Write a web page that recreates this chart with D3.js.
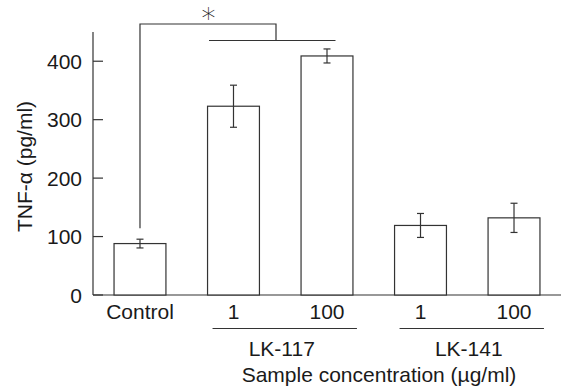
<!DOCTYPE html>
<html><head><meta charset="utf-8">
<script src="https://cdn.jsdelivr.net/npm/d3@7"></script>
<style>body{margin:0;background:#fff}text{font-family:"Liberation Sans",Arial,sans-serif;fill:#1a1a1a}</style>
</head><body><svg id="c" width="562" height="391"></svg>
<script>
const categories = ["Control","LK-117 1","LK-117 100","LK-141 1","LK-141 100"];
const tickLabels = ["Control","1","100","1","100"];
const values = [88, 323, 409, 119, 132];
const errors = [7.5, 36, 12, 20.5, 25];
const groups = [{name:"LK-117", members:["LK-117 1","LK-117 100"]},{name:"LK-141", members:["LK-141 1","LK-141 100"]}];
const yTicks = [0,100,200,300,400];

const svg = d3.select("#c");
const stroke = "#333";
const fs = 21;
const x = d3.scaleBand().domain(categories).range([93, 561]).paddingInner(0.445).paddingOuter(0.225);
const y = d3.scaleLinear().domain([0, 450]).range([295, 32]);

// axes
svg.append("line").attr("x1",93).attr("x2",93).attr("y1",y(450)).attr("y2",y(0)).attr("stroke",stroke).attr("stroke-width",1.2);
svg.append("line").attr("x1",93).attr("x2",561).attr("y1",y(0)).attr("y2",y(0)).attr("stroke",stroke).attr("stroke-width",1.2);
yTicks.forEach(t=>{
  svg.append("line").attr("x1",93).attr("x2",103).attr("y1",y(t)).attr("y2",y(t)).attr("stroke",stroke).attr("stroke-width",1.2);
  svg.append("text").attr("x",82).attr("y",y(t)).attr("dy","0.36em").attr("text-anchor","end").attr("font-size",fs).text(t);
});

// bars
categories.forEach((c,i)=>{
  const bx = x(c), bw = x.bandwidth(), cx = bx + bw/2;
  svg.append("rect").attr("x",bx).attr("y",y(values[i])).attr("width",bw).attr("height",y(0)-y(values[i]))
    .attr("fill","#fff").attr("stroke",stroke).attr("stroke-width",1.2);
  const hi = y(values[i]+errors[i]), lo = y(values[i]-errors[i]);
  svg.append("line").attr("x1",cx).attr("x2",cx).attr("y1",hi).attr("y2",lo).attr("stroke",stroke).attr("stroke-width",1.2);
  [hi,lo].forEach(v=>svg.append("line").attr("x1",cx-3.5).attr("x2",cx+3.5).attr("y1",v).attr("y2",v).attr("stroke",stroke).attr("stroke-width",1.2));
  svg.append("text").attr("x",cx).attr("y",318.5).attr("text-anchor","middle").attr("font-size",fs).text(tickLabels[i]);
});

// group lines
groups.forEach(g=>{
  const x0 = x(g.members[0]) + 5, x1 = x(g.members[1]) + x.bandwidth() + 4;
  svg.append("line").attr("x1",x0).attr("x2",x1).attr("y1",328.5).attr("y2",328.5).attr("stroke",stroke).attr("stroke-width",1.2);
  svg.append("text").attr("x",(x0+x1)/2 - 3).attr("y",355.5).attr("text-anchor","middle").attr("font-size",fs).text(g.name);
});

svg.append("text").attr("x",379).attr("y",382).attr("text-anchor","middle").attr("font-size",fs).text("Sample concentration (µg/ml)");
svg.append("text").attr("transform","translate(32,166.5) rotate(-90)").attr("text-anchor","middle").attr("font-size",fs).text("TNF-α (pg/ml)");

// significance bracket
const cC = x("Control") + x.bandwidth()/2;
const path = d3.path();
path.moveTo(cC, y(values[0]+errors[0]) - 11);
path.lineTo(cC, 24);
path.lineTo(276, 24);
path.lineTo(276, 40.5);
svg.append("path").attr("d",path.toString()).attr("fill","none").attr("stroke",stroke).attr("stroke-width",1.2);
svg.append("line").attr("x1",209).attr("x2",335.5).attr("y1",40.5).attr("y2",40.5).attr("stroke",stroke).attr("stroke-width",1.2);
svg.append("text").attr("x",208.5).attr("y",28).attr("text-anchor","middle").attr("font-size",28).style("font-family","'DejaVu Sans'").style("font-weight",200).text("*");
</script></body></html>
